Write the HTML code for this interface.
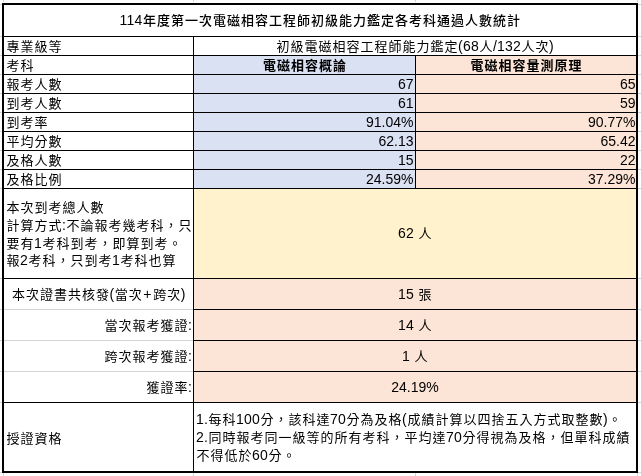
<!DOCTYPE html>
<html lang="zh-Hant">
<head>
<meta charset="utf-8">
<title>114年度電磁相容工程師初級能力鑑定統計</title>
<style>
html,body{margin:0;padding:0;background:#fff;}
body{width:641px;height:476px;position:relative;overflow:hidden;
  font-family:"Liberation Sans","Noto Sans CJK TC",sans-serif;font-size:14px;color:#000;letter-spacing:0.2px;}
.a{position:absolute;}
.h{position:absolute;height:1px;background:#000;}
.v{position:absolute;width:1px;background:#000;}
.g{position:absolute;background:#d4d4d4;}
.t{position:absolute;display:flex;align-items:center;white-space:nowrap;line-height:18px;}
.t>div{white-space:nowrap;}
.l{justify-content:flex-start;}
.c{justify-content:center;}
.r{justify-content:flex-end;}
.k{font-size:13px;letter-spacing:1px;position:relative;left:0.5px;vertical-align:0px;}
.p{padding:0 1px;}
.n{letter-spacing:0;}
.blue{background:#d9e1f2;}
.peach{background:#fce4d6;}
.yel{background:#fff2cc;}
</style>
</head>
<body>
<!-- excel gridlines outside the table -->
<div class="g" style="left:3px;top:0px;width:1px;height:2px"></div>
<div class="g" style="left:193px;top:0px;width:1px;height:2px"></div>
<div class="g" style="left:415px;top:0px;width:1px;height:2px"></div>
<div class="g" style="left:637px;top:0px;width:1px;height:2px"></div>
<div class="g" style="left:0px;top:4px;width:2px;height:1px"></div>
<div class="g" style="left:638px;top:4px;width:3px;height:1px"></div>
<div class="g" style="left:3px;top:473px;width:1px;height:3px"></div>
<div class="g" style="left:193px;top:473px;width:1px;height:3px"></div>
<div class="g" style="left:415px;top:473px;width:1px;height:3px"></div>
<div class="g" style="left:637px;top:473px;width:1px;height:3px"></div>
<div class="g" style="left:0px;top:472px;width:2px;height:1px"></div>
<div class="g" style="left:638px;top:472px;width:3px;height:1px"></div>
<div class="g" style="left:0;top:36px;width:2px;height:1px"></div>
<div class="g" style="left:638px;top:36px;width:3px;height:1px"></div>
<div class="g" style="left:0;top:55px;width:2px;height:1px"></div>
<div class="g" style="left:638px;top:55px;width:3px;height:1px"></div>
<div class="g" style="left:0;top:74px;width:2px;height:1px"></div>
<div class="g" style="left:638px;top:74px;width:3px;height:1px"></div>
<div class="g" style="left:0;top:93px;width:2px;height:1px"></div>
<div class="g" style="left:638px;top:93px;width:3px;height:1px"></div>
<div class="g" style="left:0;top:112px;width:2px;height:1px"></div>
<div class="g" style="left:638px;top:112px;width:3px;height:1px"></div>
<div class="g" style="left:0;top:131px;width:2px;height:1px"></div>
<div class="g" style="left:638px;top:131px;width:3px;height:1px"></div>
<div class="g" style="left:0;top:150px;width:2px;height:1px"></div>
<div class="g" style="left:638px;top:150px;width:3px;height:1px"></div>
<div class="g" style="left:0;top:169px;width:2px;height:1px"></div>
<div class="g" style="left:638px;top:169px;width:3px;height:1px"></div>
<div class="g" style="left:0;top:188px;width:2px;height:1px"></div>
<div class="g" style="left:638px;top:188px;width:3px;height:1px"></div>
<div class="g" style="left:0;top:278px;width:2px;height:1px"></div>
<div class="g" style="left:638px;top:278px;width:3px;height:1px"></div>
<div class="g" style="left:0;top:309px;width:2px;height:1px"></div>
<div class="g" style="left:638px;top:309px;width:3px;height:1px"></div>
<div class="g" style="left:0;top:340px;width:2px;height:1px"></div>
<div class="g" style="left:638px;top:340px;width:3px;height:1px"></div>
<div class="g" style="left:0;top:371px;width:2px;height:1px"></div>
<div class="g" style="left:638px;top:371px;width:3px;height:1px"></div>
<div class="g" style="left:0;top:402px;width:2px;height:1px"></div>
<div class="g" style="left:638px;top:402px;width:3px;height:1px"></div>
<!-- backgrounds -->
<div class="a blue" style="left:194px;top:56px;width:221px;height:132px"></div>
<div class="a peach" style="left:416px;top:56px;width:220px;height:132px"></div>
<div class="a yel" style="left:194px;top:189px;width:442px;height:89px"></div>
<div class="a peach" style="left:194px;top:279px;width:442px;height:123px"></div>
<!-- grid lines -->
<div class="h" style="left:4px;top:36px;width:632px"></div>
<div class="h" style="left:4px;top:55px;width:632px"></div>
<div class="h" style="left:4px;top:74px;width:632px"></div>
<div class="h" style="left:4px;top:93px;width:632px"></div>
<div class="h" style="left:4px;top:112px;width:632px"></div>
<div class="h" style="left:4px;top:131px;width:632px"></div>
<div class="h" style="left:4px;top:150px;width:632px"></div>
<div class="h" style="left:4px;top:169px;width:632px"></div>
<div class="h" style="left:4px;top:188px;width:632px"></div>
<div class="h" style="left:4px;top:278px;width:632px"></div>
<div class="h" style="left:4px;top:402px;width:632px"></div>
<div class="g" style="left:4px;top:309px;width:189px;height:1px"></div>
<div class="h" style="left:193px;top:309px;width:443px"></div>
<div class="g" style="left:4px;top:340px;width:189px;height:1px"></div>
<div class="h" style="left:193px;top:340px;width:443px"></div>
<div class="g" style="left:4px;top:371px;width:189px;height:1px"></div>
<div class="h" style="left:193px;top:371px;width:443px"></div>
<div class="v" style="left:193px;top:37px;height:434px"></div>
<div class="v" style="left:415px;top:56px;height:132px"></div>
<div class="a" style="left:2px;top:3px;width:636px;height:470px;border:2px solid #000;box-sizing:border-box"></div>
<!-- text -->
<div class="t c" style="left:4px;top:5px;width:632px;height:31px;font-weight:500"><div>114<span class="k">年度第一次電磁相容工程師初級能力鑑定各考科通過人數統計</span></div></div>
<div class="t l" style="left:6px;top:37px;width:186px;height:18px"><div><span class="k">專業級等</span></div></div>
<div class="t c" style="left:194px;top:37px;width:442px;height:18px"><div><span class="k">初級電磁相容工程師能力鑑定</span>(68<span class="k">人</span>/132<span class="k">人次</span>)</div></div>
<div class="t l" style="left:6px;top:56px;width:186px;height:18px"><div><span class="k">考科</span></div></div>
<div class="t c" style="left:194px;top:56px;width:221px;height:18px;font-weight:bold"><div><span class="k">電磁相容概論</span></div></div>
<div class="t c" style="left:416px;top:56px;width:220px;height:18px;font-weight:bold"><div><span class="k">電磁相容量測原理</span></div></div>
<div class="t l" style="left:6px;top:75px;width:186px;height:18px"><div><span class="k">報考人數</span></div></div>
<div class="t r n" style="left:194px;top:75px;width:219.5px;height:18px"><div>67</div></div>
<div class="t r n" style="left:416px;top:75px;width:219.5px;height:18px"><div>65</div></div>
<div class="t l" style="left:6px;top:94px;width:186px;height:18px"><div><span class="k">到考人數</span></div></div>
<div class="t r n" style="left:194px;top:94px;width:219.5px;height:18px"><div>61</div></div>
<div class="t r n" style="left:416px;top:94px;width:219.5px;height:18px"><div>59</div></div>
<div class="t l" style="left:6px;top:113px;width:186px;height:18px"><div><span class="k">到考率</span></div></div>
<div class="t r n" style="left:194px;top:113px;width:219.5px;height:18px"><div>91.04%</div></div>
<div class="t r n" style="left:416px;top:113px;width:219.5px;height:18px"><div>90.77%</div></div>
<div class="t l" style="left:6px;top:132px;width:186px;height:18px"><div><span class="k">平均分數</span></div></div>
<div class="t r n" style="left:194px;top:132px;width:219.5px;height:18px"><div>62.13</div></div>
<div class="t r n" style="left:416px;top:132px;width:219.5px;height:18px"><div>65.42</div></div>
<div class="t l" style="left:6px;top:151px;width:186px;height:18px"><div><span class="k">及格人數</span></div></div>
<div class="t r n" style="left:194px;top:151px;width:219.5px;height:18px"><div>15</div></div>
<div class="t r n" style="left:416px;top:151px;width:219.5px;height:18px"><div>22</div></div>
<div class="t l" style="left:6px;top:170px;width:186px;height:18px"><div><span class="k">及格比例</span></div></div>
<div class="t r n" style="left:194px;top:170px;width:219.5px;height:18px"><div>24.59%</div></div>
<div class="t r n" style="left:416px;top:170px;width:219.5px;height:18px"><div>37.29%</div></div>
<div class="t l" style="left:6px;top:190px;width:186px;height:89px;line-height:17.7px"><div><span class="k">本次到考總人數</span><br><span class="k">計算方式</span>:<span class="k">不論報考幾考科，只</span><br><span class="k">要有</span>1<span class="k">考科到考，即算到考。</span><br><span class="k">報</span>2<span class="k">考科，只到考</span>1<span class="k">考科也算</span></div></div>
<div class="t c" style="left:194px;top:189px;width:442px;height:89px"><div>62 <span class="k">人</span></div></div>
<div class="t c" style="left:4px;top:279px;width:189px;height:30px"><div><span class="k">本次證書共核發</span>(<span class="k">當次</span><span class="p">+</span><span class="k">跨次</span>)</div></div>
<div class="t c" style="left:194px;top:279px;width:442px;height:30px"><div>15 <span class="k">張</span></div></div>
<div class="t r" style="left:4px;top:310px;width:188px;height:30px"><div><span class="k">當次報考獲證</span>:</div></div>
<div class="t c" style="left:194px;top:310px;width:442px;height:30px"><div>14 <span class="k">人</span></div></div>
<div class="t r" style="left:4px;top:341px;width:188px;height:30px"><div><span class="k">跨次報考獲證</span>:</div></div>
<div class="t c" style="left:194px;top:341px;width:442px;height:30px"><div>1 <span class="k">人</span></div></div>
<div class="t r" style="left:4px;top:372px;width:188px;height:30px"><div><span class="k">獲證率</span>:</div></div>
<div class="t c n" style="left:194px;top:372px;width:442px;height:30px"><div>24.19%</div></div>
<div class="t l" style="left:6px;top:404px;width:186px;height:68px"><div><span class="k">授證資格</span></div></div>
<div class="t l" style="left:196px;top:404px;width:438px;height:68px;line-height:17.75px"><div>1.<span class="k">每科</span>100<span class="k">分，該科達</span>70<span class="k">分為及格</span>(<span class="k">成績計算以四捨五入方式取整數</span>)<span class="k">。</span><br>2.<span class="k">同時報考同一級等的所有考科，平均達</span>70<span class="k">分得視為及格，但單科成績</span><br><span class="k">不得低於</span>60<span class="k">分。</span></div></div>
</body>
</html>
